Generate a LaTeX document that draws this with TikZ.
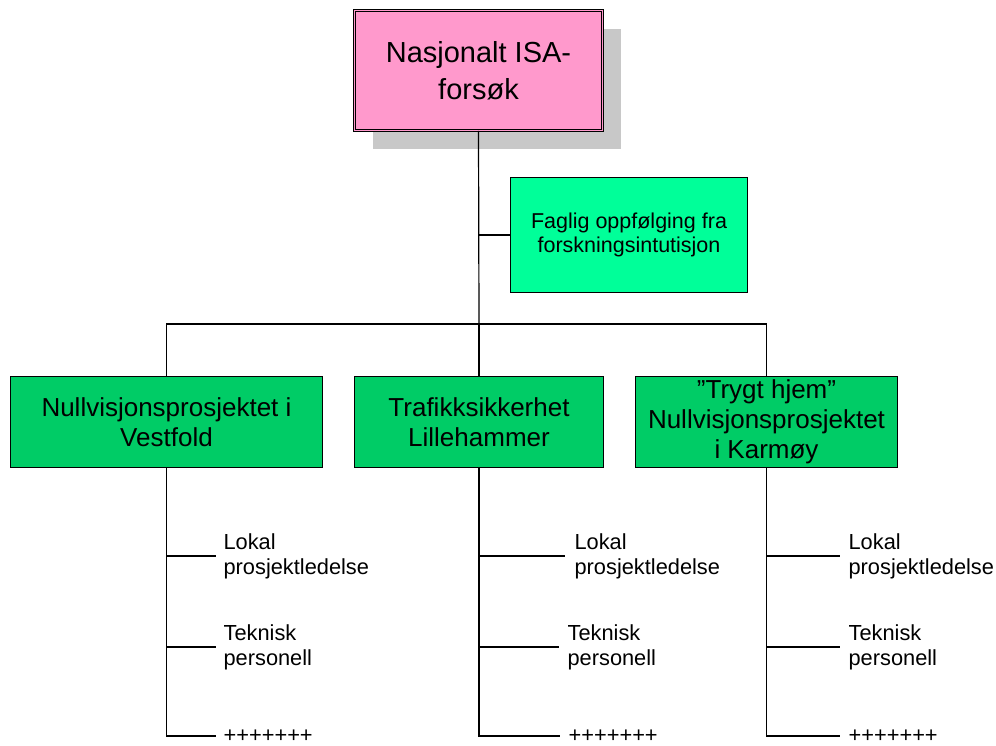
\documentclass[tikz,border=0pt]{standalone}
\usepackage{fontspec}
\setmainfont{Liberation Sans}
\usepackage{tikz}
\usetikzlibrary{
  positioning,
  shadows,
  calc
}
\definecolor{mypink}{RGB}{255,153,204}
\definecolor{myspring}{RGB}{0,255,153}
\definecolor{mygreen}{RGB}{0,204,102}
\definecolor{myshadow}{RGB}{200,200,200}

\begin{document}
\begin{tikzpicture}[
  x=1pt,y=-1pt,
  line width=1.2pt,
  toprect/.style={
    draw,
    fill=mypink,
    double=mypink,
    double distance=1.5pt,
    line width=0.8pt,
    align=center,
    font=\fontsize{29}{37}\selectfont,
    drop shadow={shadow xshift=18pt,shadow yshift=-18pt,fill=myshadow,opacity=1}
    },
  fagrect/.style={
    draw,
    fill=myspring,
    align=center,
    font=\fontsize{21.5}{24}\selectfont
    },
  prosjrect/.style={
    draw,
    fill=mygreen,
    align=center,
    minimum height=91pt,
    font=\fontsize{26}{30}\selectfont
    },
  mylabel/.style={
    anchor=west,
    align=left,
    inner xsep=8pt,
    inner ysep=0pt,
    font=\fontsize{21.8}{25}\selectfont
    }
]
\useasboundingbox (0,0) rectangle (996,745);

\node[toprect,minimum width=248pt,minimum height=120pt]
  (isa) at (478.5,70.5) {Nasjonalt ISA-\\forsøk};
\node[fagrect,minimum width=237pt,minimum height=115pt]
  (faglig) at (629,235) {Faglig oppfølging fra\\forskningsintutisjon};

\node[prosjrect,minimum width=312pt]
  (vestfold) at (166.5,422) {Nullvisjonsprosjektet i\\Vestfold};
\node[prosjrect,minimum width=249pt]
  (lillehammer) at (479,422) {Trafikksikkerhet\\Lillehammer};
\node[prosjrect,minimum width=262pt]
  (karmoy) at (766.5,422) {”Trygt hjem”\\Nullvisjonsprosjektet\\i Karmøy};

\coordinate (bus) at (479,324);
\draw (isa.south) -- (bus);
\draw (isa.south |- faglig.west) -- (faglig.west);
\draw (vestfold.north) |- (bus) -| (karmoy.north);
\draw (bus) -- (lillehammer.north);

\node[mylabel,inner xsep=7pt] (lok1) at (216,556) {Lokal\\prosjektledelse};
\node[mylabel,inner xsep=7pt] (tek1) at (216,647) {Teknisk\\personell};
\node[mylabel,inner xsep=7pt] (plus1) at (216,736) {+++++++};
\draw (vestfold.south) |- (plus1.west);
\draw (vestfold.south |- lok1) -- (lok1.west);
\draw (vestfold.south |- tek1) -- (tek1.west);

\node[mylabel,inner xsep=9pt] (lok2) at (565,556) {Lokal\\prosjektledelse};
\node[mylabel] (tek2) at (559,647) {Teknisk\\personell};
\node[mylabel] (plus2) at (560,736) {+++++++};
\draw (lillehammer.south) |- (plus2.west);
\draw (lillehammer.south |- lok2) -- (lok2.west);
\draw (lillehammer.south |- tek2) -- (tek2.west);

\node[mylabel] (lok3) at (840,556) {Lokal\\prosjektledelse};
\node[mylabel] (tek3) at (840,647) {Teknisk\\personell};
\node[mylabel] (plus3) at (840,736) {+++++++};
\draw (karmoy.south) |- (plus3.west);
\draw (karmoy.south |- lok3) -- (lok3.west);
\draw (karmoy.south |- tek3) -- (tek3.west);
\end{tikzpicture}
\end{document}
